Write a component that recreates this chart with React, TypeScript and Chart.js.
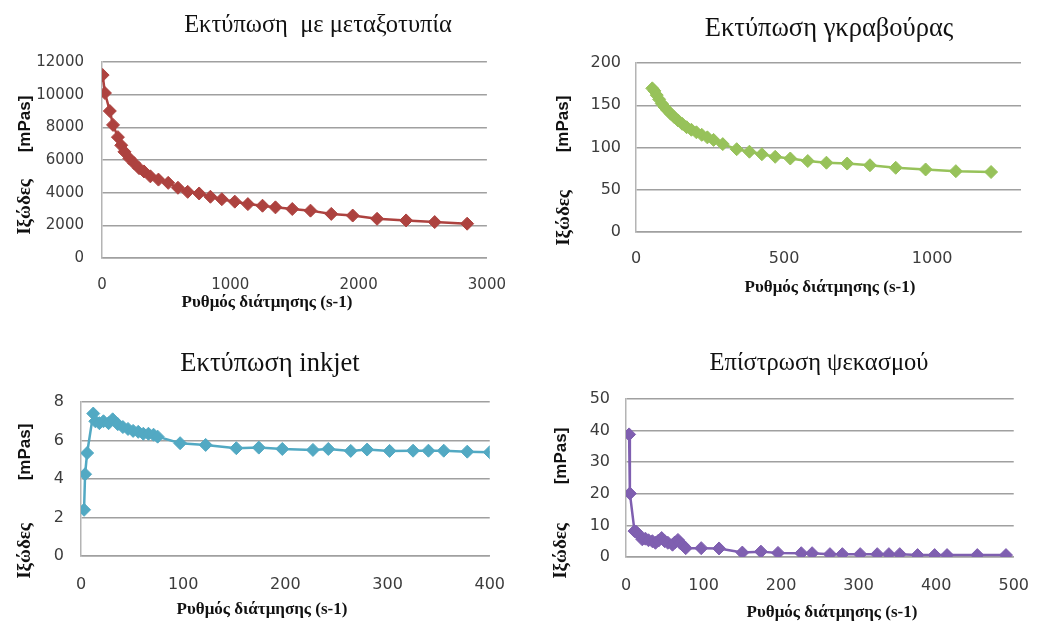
import React, { useEffect, useRef } from 'react';
import { Chart, registerables } from 'chart.js';

Chart.register(...registerables);

// ---------- DATA ----------
const screenRate = [5, 23, 61, 86, 124, 150, 175, 213, 251, 289, 327, 377, 440, 516, 592, 668, 757, 845, 934, 1035, 1137, 1251, 1352, 1483, 1625, 1787, 1954, 2144, 2370, 2593, 2846];
const screenVisc = [11200, 10100, 9000, 8150, 7400, 6900, 6500, 6100, 5800, 5500, 5300, 5000, 4800, 4600, 4300, 4050, 3950, 3750, 3600, 3450, 3300, 3200, 3100, 3000, 2900, 2700, 2600, 2400, 2300, 2200, 2100];

const gravureRate = [55, 62, 70, 78, 87, 96, 106, 117, 129, 142, 156, 171, 187, 204, 222, 241, 262, 293, 340, 383, 425, 470, 521, 580, 643, 713, 790, 877, 978, 1080, 1199];
const gravureVisc = [170, 167, 162, 157, 152, 148, 144, 140, 136, 132, 128, 124, 121, 118, 115, 112, 109, 104, 98, 95, 92, 89, 87, 84, 82, 81, 79, 76, 74, 72, 71];

const inkjetRate = [3, 4, 6, 12, 14, 18, 22, 27, 31, 36, 41, 46, 51, 56, 61, 66, 71, 75, 97, 122, 152, 174, 197, 227, 242, 264, 280, 302, 325, 340, 355, 378, 400];
const inkjetVisc = [2.4, 4.25, 5.35, 7.4, 7.0, 6.9, 7.0, 6.9, 7.1, 6.85, 6.7, 6.6, 6.5, 6.45, 6.35, 6.35, 6.3, 6.2, 5.86, 5.77, 5.6, 5.63, 5.56, 5.51, 5.56, 5.46, 5.53, 5.46, 5.47, 5.47, 5.47, 5.42, 5.39];

const sprayRate = [4, 5, 11, 13, 17, 21, 25, 29, 34, 38, 42, 46, 50, 54, 60, 63, 67, 70, 73, 77, 97, 120, 150, 174, 196, 226, 240, 263, 279, 302, 324, 339, 353, 376, 398, 414, 453, 490];
const sprayVisc = [38.8, 20.1, 8.2, 8.0, 7.0, 5.6, 5.8, 5.3, 5.0, 4.5, 5.2, 6.0, 5.0, 4.5, 3.9, 4.6, 5.4, 4.4, 3.8, 2.8, 2.8, 2.7, 1.4, 1.7, 1.3, 1.2, 1.2, 0.9, 0.9, 0.9, 0.9, 0.9, 0.9, 0.6, 0.6, 0.6, 0.6, 0.6];

// tick labels / axis ranges
const screenXTicks = [0, 1000, 2000, 3000];
const screenYTicks = [0, 2000, 4000, 6000, 8000, 10000, 12000];
const gravureXTicks = [0, 500, 1000];
const gravureYTicks = [0, 50, 100, 150, 200];
const inkjetXTicks = [0, 100, 200, 300, 400];
const inkjetYTicks = [0, 2, 4, 6, 8];
const sprayXTicks = [0, 100, 200, 300, 400, 500];
const sprayYTicks = [0, 10, 20, 30, 40, 50];
const screenXMax = 3000;
const gravureXMax = 1300;
const inkjetXMax = 400;
const sprayXMax = 500;

const TITLE_SCREEN = 'Εκτύπωση  με μεταξοτυπία';
const TITLE_GRAVURE = 'Εκτύπωση γκραβούρας';
const TITLE_INKJET = 'Εκτύπωση inkjet';
const TITLE_SPRAY = 'Επίστρωση ψεκασμού';
const X_TITLE = 'Ρυθμός διάτμησης (s-1)';
const Y_TITLE_A = 'Ιξώδες';
const Y_TITLE_B = '[mPas]';

// ---------- STYLE ----------
const W = 524;
const H = 315;
const GRID = '#a0a0a0';
const AXIS = '#b4b4b4';
const TICK_COLOR = '#3c3c3c';
const SERIF = '"Liberation Serif", "DejaVu Serif", serif';
const SANS = '"Liberation Sans", "DejaVu Sans", sans-serif';

type PanelCfg = {
  left: number;
  top: number;
  xs: number[];
  ys: number[];
  color: string;
  xMax: number;
  xTicks: number[];
  yTicks: number[];
  area: { l: number; t: number; r: number; b: number };
  xPad: number;
  yPad: number;
  tickSize: number;
  title: string;
  titleSize: number;
  titlePos: [number, number];
  xTitlePos: [number, number];
  yBPos: [number, number];
  yAPos: [number, number];
};

const panels: PanelCfg[] = [
  {
    left: 0, top: 0, xs: screenRate, ys: screenVisc, color: '#ad423f',
    xMax: screenXMax, xTicks: screenXTicks, yTicks: screenYTicks,
    area: { l: 102, t: 62, r: 497, b: 258 }, xPad: 18, yPad: 18, tickSize: 15,
    title: TITLE_SCREEN, titleSize: 24.5, titlePos: [318, 26], xTitlePos: [267, 303],
    yBPos: [25, 124], yAPos: [25, 207],
  },
  {
    left: 524, top: 0, xs: gravureRate, ys: gravureVisc, color: '#97c25a',
    xMax: gravureXMax, xTicks: gravureXTicks, yTicks: gravureYTicks,
    area: { l: 112, t: 63, r: 497, b: 232 }, xPad: 17, yPad: 15, tickSize: 16,
    title: TITLE_GRAVURE, titleSize: 26.5, titlePos: [305, 29], xTitlePos: [306, 288],
    yBPos: [39, 124], yAPos: [40, 218],
  },
  {
    left: 0, top: 315, xs: inkjetRate, ys: inkjetVisc, color: '#52a9c3',
    xMax: inkjetXMax, xTicks: inkjetXTicks, yTicks: inkjetYTicks,
    area: { l: 81, t: 87, r: 490, b: 241 }, xPad: 19, yPad: 17, tickSize: 16,
    title: TITLE_INKJET, titleSize: 26.5, titlePos: [270, 49], xTitlePos: [262, 295],
    yBPos: [25, 137], yAPos: [25, 236],
  },
  {
    left: 524, top: 315, xs: sprayRate, ys: sprayVisc, color: '#7f5fb0',
    xMax: sprayXMax, xTicks: sprayXTicks, yTicks: sprayYTicks,
    area: { l: 102, t: 84, r: 507, b: 242 }, xPad: 19, yPad: 16, tickSize: 16,
    title: TITLE_SPRAY, titleSize: 24.5, titlePos: [295, 49], xTitlePos: [308, 298],
    yBPos: [37, 141], yAPos: [37, 236],
  },
];

function makeTextPlugin(p: PanelCfg) {
  return {
    id: 'panelTexts',
    afterDraw(chart: any) {
      const ctx = chart.ctx as CanvasRenderingContext2D;
      ctx.save();
      ctx.fillStyle = '#111';
      ctx.textAlign = 'center';
      ctx.textBaseline = 'middle';
      ctx.font = `${p.titleSize}px ${SERIF}`;
      ctx.fillText(p.title, p.titlePos[0], p.titlePos[1]);
      ctx.font = `bold 17px ${SERIF}`;
      ctx.fillText(X_TITLE, p.xTitlePos[0], p.xTitlePos[1]);
      const parts: [string, string, [number, number]][] = [
        [Y_TITLE_B, `bold 17px ${SANS}`, p.yBPos],
        [Y_TITLE_A, `bold 19px ${SERIF}`, p.yAPos],
      ];
      for (const [text, font, pos] of parts) {
        ctx.save();
        ctx.translate(pos[0], pos[1]);
        ctx.rotate(-Math.PI / 2);
        ctx.font = font;
        ctx.fillText(text, 0, 0);
        ctx.restore();
      }
      ctx.restore();
    },
  };
}

function Panel({ cfg }: { cfg: PanelCfg }) {
  const ref = useRef<HTMLCanvasElement | null>(null);
  useEffect(() => {
    if (!ref.current) return;
    const a = cfg.area;
    const tickFont = { family: 'DejaVu Sans', size: cfg.tickSize };
    const chart = new Chart(ref.current, {
      type: 'line',
      data: {
        datasets: [
          {
            data: cfg.xs.map((x, i) => ({ x, y: cfg.ys[i] })),
            borderColor: cfg.color,
            backgroundColor: cfg.color,
            borderWidth: 2.5,
            pointStyle: 'rectRot',
            pointRadius: 6.5,
            pointBorderWidth: 1,
            pointBorderColor: cfg.color,
            pointBackgroundColor: cfg.color,
            tension: 0,
            fill: false,
          },
        ],
      },
      options: {
        responsive: true,
        maintainAspectRatio: false,
        devicePixelRatio: 1,
        animation: false,
        layout: { padding: { left: 0, top: a.t, right: W - a.r, bottom: 0 } },
        plugins: { legend: { display: false }, tooltip: { enabled: false }, title: { display: false } },
        scales: {
          x: {
            type: 'linear',
            min: 0,
            max: cfg.xMax,
            afterBuildTicks: (s: any) => { s.ticks = cfg.xTicks.map((v) => ({ value: v })); },
            afterFit: (s: any) => { s.height = H - a.b; },
            grid: { display: true, drawOnChartArea: false, drawTicks: false, color: GRID },
            border: { display: true, color: GRID, width: 1.5 },
            ticks: {
              padding: cfg.xPad,
              font: tickFont,
              color: TICK_COLOR,
              maxRotation: 0,
              autoSkip: false,
              callback: (v: any) => String(v),
            },
          },
          y: {
            type: 'linear',
            min: 0,
            max: cfg.yTicks[cfg.yTicks.length - 1],
            afterBuildTicks: (s: any) => { s.ticks = cfg.yTicks.map((v) => ({ value: v })); },
            afterFit: (s: any) => { s.width = a.l; },
            grid: { display: true, drawOnChartArea: true, drawTicks: false, color: GRID, lineWidth: 1.5 },
            border: { display: true, color: AXIS, width: 1.5 },
            ticks: {
              padding: cfg.yPad,
              font: tickFont,
              color: TICK_COLOR,
              autoSkip: false,
              callback: (v: any) => String(v),
            },
          },
        },
      },
      plugins: [makeTextPlugin(cfg)],
    } as any);
    return () => chart.destroy();
  }, [cfg]);
  return (
    <div style={{ position: 'absolute', left: cfg.left, top: cfg.top, width: W, height: H }}>
      <canvas ref={ref} />
    </div>
  );
}

export default function App() {
  return (
    <div style={{ position: 'absolute', left: 0, top: 0, width: 1048, height: 630, background: '#fff', overflow: 'hidden' }}>
      {panels.map((p, i) => (
        <Panel key={i} cfg={p} />
      ))}
    </div>
  );
}
